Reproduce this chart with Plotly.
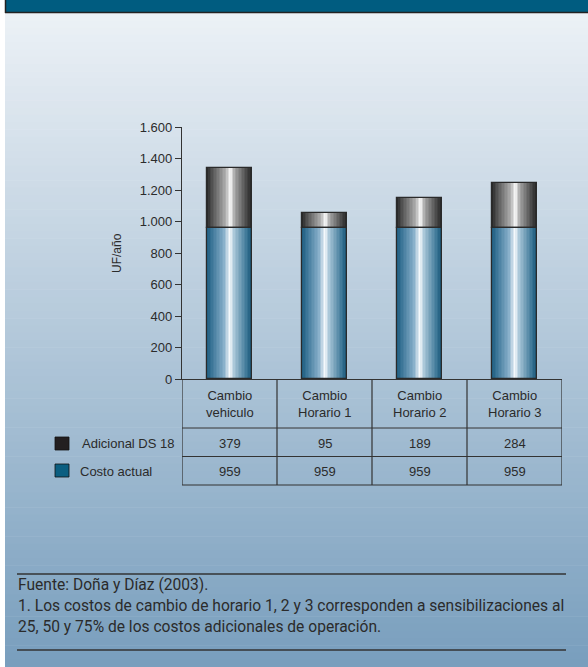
import plotly.graph_objects as go

# ---------------- data ----------------
categories = ["Cambio<br>vehiculo", "Cambio<br>Horario 1", "Cambio<br>Horario 2", "Cambio<br>Horario 3"]
costo_actual = [959, 959, 959, 959]
adicional_ds18 = [379, 95, 189, 284]
series_names = ["Adicional DS 18", "Costo actual"]
y_tickvals = [0, 200, 400, 600, 800, 1000, 1200, 1400, 1600]
y_ticktext = ["0", "200", "400", "600", "800", "1.000", "1.200", "1.400", "1.600"]
y_title = "UF/año"
footnotes = [
    "Fuente: Doña y Díaz (2003).",
    "1. Los costos de cambio de horario 1, 2 y 3 corresponden a sensibilizaciones al",
    "25, 50 y 75% de los costos adicionales de operación.",
]

# ---------------- layout geometry ----------------
W, H = 588, 667
L, R, T, B = 182, 26, 127, 288
PW, PH = W - L - R, H - T - B
FONT = "Liberation Sans, Arial, sans-serif"
NARROW = "Roboto, Liberation Sans, sans-serif"
TXT = "#2b2b2b"


def px(x):
    return (x - L) / PW


def py(y):
    return (H - B - y) / PH


def lerp(c1, c2, t):
    return tuple(round(a + (b - a) * t) for a, b in zip(c1, c2))


def profile(stops, t):
    for (t0, c0), (t1, c1) in zip(stops, stops[1:]):
        if t0 <= t <= t1:
            return lerp(c0, c1, (t - t0) / (t1 - t0) if t1 > t0 else 0)
    return stops[-1][1]


blue_stops = [(0.0, (28, 88, 122)), (0.08, (50, 110, 145)), (0.38, (135, 175, 202)),
              (0.52, (248, 251, 253)), (0.62, (168, 198, 216)), (0.9, (60, 118, 150)),
              (1.0, (24, 86, 120))]
grey_stops = [(0.0, (35, 35, 35)), (0.08, (70, 70, 70)), (0.42, (175, 175, 175)),
              (0.53, (252, 252, 252)), (0.63, (165, 165, 165)), (0.9, (70, 70, 70)),
              (1.0, (40, 40, 40))]

fig = go.Figure()

BAR_W = 0.47
N = 30
sw = BAR_W / N
xidx = list(range(len(categories)))
for j in range(N):
    t = (j + 0.5) / N
    cb = "rgb(%d,%d,%d)" % profile(blue_stops, t)
    cg = "rgb(%d,%d,%d)" % profile(grey_stops, t)
    off = -BAR_W / 2 + j * sw
    fig.add_trace(go.Bar(x=xidx, y=costo_actual, width=sw * 1.05, offset=off,
                         marker=dict(color=cb, line=dict(width=0)),
                         showlegend=False, hoverinfo="skip"))
    fig.add_trace(go.Bar(x=xidx, y=adicional_ds18, base=costo_actual, width=sw * 1.05, offset=off,
                         marker=dict(color=cg, line=dict(width=0)),
                         showlegend=False, hoverinfo="skip"))
# outlines
fig.add_trace(go.Bar(x=xidx, y=costo_actual, width=BAR_W, offset=-BAR_W / 2,
                     marker=dict(color="rgba(0,0,0,0)", line=dict(width=1.2, color="#2a2a2a")),
                     showlegend=False, hoverinfo="skip"))
fig.add_trace(go.Bar(x=xidx, y=adicional_ds18, base=costo_actual, width=BAR_W, offset=-BAR_W / 2,
                     marker=dict(color="rgba(0,0,0,0)", line=dict(width=1.2, color="#2a2a2a")),
                     showlegend=False, hoverinfo="skip"))

shapes = []
# background gradient
top_c, bot_c = (236, 241, 246), (120, 158, 189)
steps = 90
y0 = 13
for k in range(steps):
    ya = y0 + (H - y0) * k / steps
    yb = y0 + (H - y0) * (k + 1) / steps + 0.6
    c = lerp(top_c, bot_c, (k + 0.5) / steps)
    shapes.append(dict(type="rect", xref="paper", yref="paper", x0=px(5), x1=px(W + 2),
                       y0=py(yb), y1=py(ya), fillcolor="rgb(%d,%d,%d)" % c,
                       line=dict(width=0), layer="below"))
# top band
shapes.append(dict(type="rect", xref="paper", yref="paper", x0=px(5), x1=px(W + 2),
                   y0=py(13), y1=py(-2), fillcolor="#005c80", line=dict(width=0), layer="below"))
shapes.append(dict(type="line", xref="paper", yref="paper", x0=px(5), x1=px(W + 2),
                   y0=py(12.5), y1=py(12.5), line=dict(color="#222", width=1.5), layer="below"))
shapes.append(dict(type="line", xref="paper", yref="paper", x0=px(5.5), x1=px(5.5),
                   y0=py(13), y1=py(-2), line=dict(color="#222", width=1.5), layer="below"))

# table grid
line_c = "#333333"
for xb in [-0.5, 0.5, 1.5, 2.5, 3.5]:
    shapes.append(dict(type="line", xref="x", yref="paper", x0=xb, x1=xb,
                       y0=py(379), y1=py(485), line=dict(color=line_c, width=1.2)))
for yy in [428, 456.5, 485]:
    shapes.append(dict(type="line", xref="x", yref="paper", x0=-0.5, x1=3.5,
                       y0=py(yy), y1=py(yy), line=dict(color=line_c, width=1.2)))
# legend squares
shapes.append(dict(type="rect", xref="paper", yref="paper", x0=px(55), x1=px(69),
                   y0=py(450), y1=py(437), fillcolor="#231f20", line=dict(color="#111", width=0.8)))
shapes.append(dict(type="rect", xref="paper", yref="paper", x0=px(55), x1=px(69),
                   y0=py(477), y1=py(464), fillcolor="#0b5e80", line=dict(color="#111", width=0.8)))
# footnote rules
for yy in [574, 650]:
    shapes.append(dict(type="line", xref="paper", yref="paper", x0=px(17), x1=px(566),
                       y0=py(yy), y1=py(yy), line=dict(color="#333", width=1.5)))

ann = []


def add_text(x, y, text, xref="paper", xanchor="center", size=13, family=FONT, **kw):
    ann.append(dict(x=x, y=py(y), xref=xref, yref="paper", text=text, showarrow=False,
                    xanchor=xanchor, yanchor="middle",
                    font=dict(family=family, size=size, color=TXT), **kw))


for i, cat in enumerate(categories):
    add_text(i, 404, cat, xref="x", align="center")
    add_text(i, 443, str(adicional_ds18[i]), xref="x")
    add_text(i, 471, str(costo_actual[i]), xref="x")
add_text(px(80), 443, series_names[0], xanchor="left")
add_text(px(78), 471, series_names[1], xanchor="left")
add_text(px(117), 253, y_title, size=12, textangle=-90)
for line, yy in zip(footnotes, [585, 606, 627]):
    add_text(px(16), yy, line, xanchor="left", size=15.6, family=NARROW)

fig.update_layout(
    width=W, height=H, autosize=False,
    margin=dict(l=L, r=R, t=T, b=B, pad=0),
    paper_bgcolor="white", plot_bgcolor="rgba(0,0,0,0)",
    barmode="overlay", bargap=0,
    shapes=shapes, annotations=ann, showlegend=False,
    xaxis=dict(range=[-0.5, 3.5], showticklabels=False, ticks="", showgrid=False,
               zeroline=False, showline=True, linecolor=line_c, linewidth=1.2, fixedrange=True),
    yaxis=dict(range=[0, 1600], tickvals=y_tickvals, ticktext=y_ticktext, ticks="outside",
               ticklen=6, tickcolor=line_c, tickwidth=1, showgrid=False, zeroline=False,
               showline=True, linecolor=line_c, linewidth=1.2,
               tickfont=dict(family=FONT, size=13, color=TXT), fixedrange=True),
)

fig.write_html("out.html")
